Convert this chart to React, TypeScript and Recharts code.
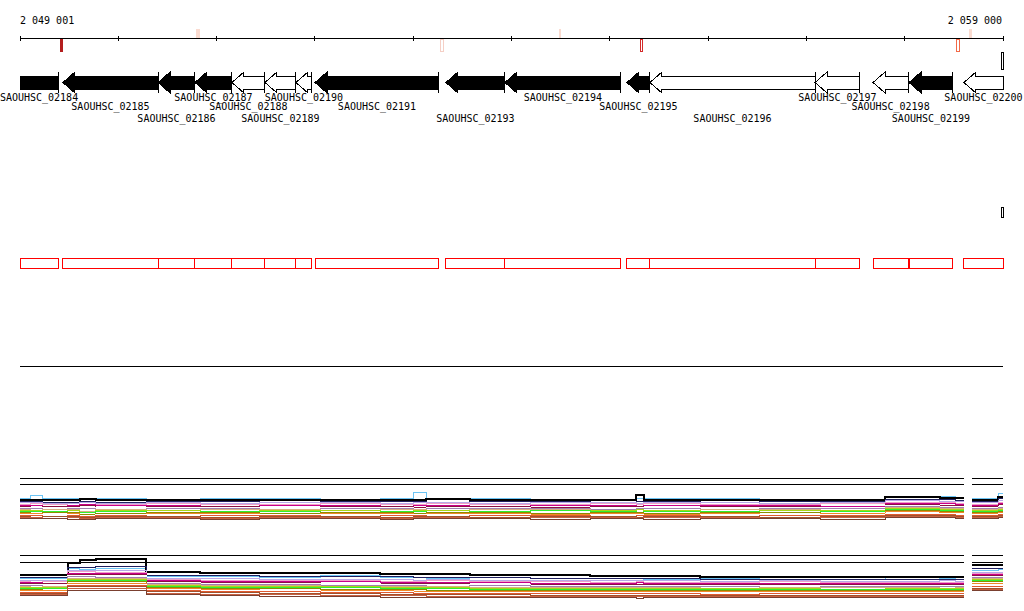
import React from 'react';
import { ComposedChart, LineChart, Line, XAxis, YAxis, ReferenceArea, ReferenceLine } from 'recharts';

// visible window on the chromosome (bp)
const WINDOW: [number, number] = [2049001, 2059000];
const RULER_TICKS = [2049001, 2050000, 2051000, 2052000, 2053000, 2054000, 2055000, 2056000, 2057000, 2058000, 2059000];

const GENE_NAMES = [
  'SAOUHSC_02184', 'SAOUHSC_02185', 'SAOUHSC_02186', 'SAOUHSC_02187', 'SAOUHSC_02188', 'SAOUHSC_02189',
  'SAOUHSC_02190', 'SAOUHSC_02191', 'SAOUHSC_02193', 'SAOUHSC_02194', 'SAOUHSC_02195', 'SAOUHSC_02196',
  'SAOUHSC_02197', 'SAOUHSC_02198', 'SAOUHSC_02199', 'SAOUHSC_02200',
];
const GENE_START = [2048650, 2049438, 2050405, 2050781, 2051157, 2051493, 2051808, 2052002, 2053334, 2053934, 2055175, 2055409, 2057088, 2057678, 2058044, 2058603];
const GENE_END = [2049388, 2050405, 2050781, 2051157, 2051493, 2051808, 2051971, 2053263, 2053934, 2055114, 2055409, 2057088, 2057545, 2058034, 2058491, 2059400];
const GENE_STRAND = ['-', '-', '-', '-', '-', '-', '-', '-', '-', '-', '-', '-', '-', '-', '-', '-'];
const GENE_CLASS = ['core', 'core', 'core', 'core', 'acc', 'acc', 'acc', 'core', 'core', 'core', 'core', 'acc', 'acc', 'acc', 'core', 'acc'];

// small features on the ruler
const MARK_START = [2049418, 2050801, 2053283, 2054484, 2055308, 2058522, 2058664];
const MARK_END = [2049438, 2050822, 2053304, 2054504, 2055338, 2058553, 2058675];
const MARK_STRAND = ['-', '+', '-', '+', '-', '-', '+'];
const MARK_TYPE = ['A', 'B', 'C', 'B', 'D', 'E', 'B'];
const EDGE_FEATURE = [2058980, 2059000];

// probe positions of the two signal tracks, no probes inside GAP
const GAP = [2058603, 2058685];
const POSITIONS = [
  2049001, 2049103, 2049225, 2049489, 2049611, 2049774, 2050283, 2050832, 2051442, 2052053,
  2052663, 2052999, 2053131, 2053578, 2054189, 2054799, 2055267, 2055348, 2055918, 2056528,
  2057139, 2057800, 2058359, 2058512, 2058603, 2058640, 2058685, 2058950, 2059000,
];
const SAMPLES = ['c01', 'c02', 'c03', 'c04', 'c05', 'c06', 'c07', 'c08', 'c09', 'c10', 'c11', 'c12', 'c13', 'c14', 'c15', 'c16', 'c17', 'c18', 'c19'];

const UPPER_TRACK: (number | null)[][] = [
  [26, 29, 26, 26, 26, 26, 25, 26, 26, 25, 26, 32, 26, 26, 25, 25, 26, 26, 26, 25, 25, 27, 28, 26, 26, null, 26, 31, 31],
  [24, 24, 24, 24, 25, 24, 24, 24, 24, 24, 24, 24, 25, 24, 24, 24, 29, 24, 24, 24, 24, 27, 26, 26, 26, null, 24, 27, 27],
  [23, 23, 22, 22, 23, 22, 23, 23, 22, 23, 23, 23, 22, 23, 23, 22, 23, 23, 22, 23, 23, 25, 25, 24, 24, null, 23, 26, 26],
  [22, 22, 21, 21, 22, 21, 22, 21, 22, 22, 21, 22, 22, 21, 22, 22, 21, 22, 22, 21, 22, 24, 23, 23, 23, null, 22, 24, 24],
  [20, 21, 20, 19, 20, 20, 21, 20, 20, 21, 20, 20, 21, 20, 20, 21, 20, 21, 20, 20, 21, 22, 22, 21, 21, null, 20, 22, 22],
  [19, 19, 18, 19, 20, 19, 19, 18, 19, 19, 18, 19, 19, 18, 19, 19, 18, 19, 19, 19, 18, 21, 21, 20, 20, null, 19, 21, 21],
  [18, 17, 18, 18, 19, 17, 18, 18, 17, 18, 18, 17, 18, 18, 17, 18, 18, 17, 18, 18, 17, 20, 19, 19, 19, null, 18, 20, 20],
  [17, 17, 17, 16, 17, 17, 17, 16, 17, 17, 17, 16, 17, 17, 16, 17, 17, 17, 16, 17, 17, 19, 18, 18, 18, null, 17, 18, 18],
  [16, 16, 15, 16, 16, 15, 16, 16, 15, 16, 16, 15, 16, 16, 16, 15, 16, 16, 15, 16, 16, 18, 17, 17, 17, null, 16, 17, 17],
  [15, 14, 15, 15, 13, 15, 14, 15, 15, 14, 15, 15, 14, 15, 15, 14, 15, 14, 15, 15, 14, 17, 16, 16, 16, null, 15, 16, 16],
  [14, 14, 13, 14, 12, 14, 14, 13, 14, 14, 13, 14, 14, 13, 14, 14, 15, 14, 13, 14, 14, 16, 15, 15, 15, null, 14, 15, 15],
  [13, 13, 13, 12, 12, 13, 12, 13, 13, 12, 13, 13, 12, 13, 14, 13, 12, 13, 13, 12, 13, 15, 14, 14, 14, null, 13, 14, 14],
  [12, 11, 12, 12, 10, 11, 12, 12, 11, 12, 12, 11, 12, 12, 11, 12, 12, 11, 12, 12, 11, 14, 13, 13, 13, null, 12, 13, 13],
  [11, 11, 10, 11, 9, 10, 11, 11, 10, 11, 11, 10, 11, 11, 10, 11, 11, 10, 11, 10, 11, 13, 12, 12, 12, null, 11, 12, 12],
  [10, 10, 10, 9, 9, 10, 10, 9, 10, 10, 9, 10, 10, 10, 9, 10, 10, 9, 10, 10, 9, 11, 11, 10, 10, null, 10, 11, 11],
  [9, 9, 8, 9, 8, 9, 8, 9, 9, 8, 9, 9, 8, 9, 9, 8, 9, 9, 8, 9, 9, 10, 10, 9, 9, null, 9, 10, 10],
  [8, 7, 8, 8, 7, 8, 8, 7, 8, 8, 7, 8, 8, 7, 8, 8, 7, 8, 8, 7, 8, 9, 9, 8, 8, null, 8, 9, 9],
  [7, 7, 6, 7, 6, 7, 7, 6, 7, 7, 6, 7, 7, 6, 7, 7, 6, 7, 7, 6, 7, 8, 8, 7, 7, null, 7, 8, 8],
  [6, 6, 6, 5, 5, 6, 6, 5, 6, 6, 5, 6, 6, 6, 5, 6, 6, 5, 6, 6, 5, 7, 7, 6, 6, null, 6, 7, 7],
];

const LOWER_TRACK: (number | null)[][] = [
  [22, 22, 22, 32, 31, 32, 24, 24, 23, 25, 23, 23, 22, 23, 22, 22, 22, 21, 22, 21, 21, 23, 22, 21, 21, null, 30, 31, 31],
  [25, 25, 25, 37, 40, 41, 28, 27, 27, 27, 26, 26, 26, 25, 25, 24, 24, 24, 23, 23, 23, 23, 23, 23, 23, null, 35, 35, 35],
  [23, 23, 23, 33, 33, 34, 25, 25, 24, 24, 24, 23, 23, 23, 22, 22, 22, 22, 21, 21, 21, 21, 21, 21, 21, null, 32, 32, 32],
  [20, 20, 20, 30, 30, 30, 22, 22, 21, 21, 21, 20, 21, 20, 20, 20, 20, 20, 19, 20, 19, 19, 20, 19, 19, null, 28, 28, 28],
  [19, 18, 19, 29, 29, 28, 21, 20, 20, 20, 19, 19, 20, 19, 19, 18, 19, 18, 18, 19, 18, 18, 18, 18, 18, null, 27, 27, 27],
  [18, 18, 17, 27, 27, 27, 20, 19, 19, 19, 18, 18, 18, 18, 17, 17, 18, 17, 17, 17, 17, 17, 17, 17, 17, null, 26, 26, 26],
  [17, 17, 17, 26, 26, 26, 19, 18, 18, 17, 17, 17, 17, 16, 16, 16, 16, 16, 16, 16, 16, 16, 16, 16, 16, null, 25, 25, 25],
  [16, 16, 16, 25, 25, 25, 18, 17, 17, 17, 16, 16, 16, 16, 15, 15, 15, 15, 15, 15, 15, 15, 15, 15, 15, null, 24, 24, 24],
  [15, 15, 14, 24, 24, 23, 17, 16, 16, 15, 15, 15, 14, 15, 14, 14, 14, 14, 14, 13, 14, 14, 14, 14, 14, null, 23, 23, 23],
  [14, 13, 14, 22, 22, 22, 16, 15, 15, 14, 14, 14, 14, 13, 13, 13, 13, 13, 12, 13, 13, 13, 12, 13, 13, null, 22, 22, 22],
  [13, 13, 13, 21, 21, 21, 15, 14, 14, 14, 13, 13, 13, 12, 12, 12, 12, 12, 12, 12, 11, 12, 12, 12, 12, null, 21, 21, 21],
  [12, 12, 12, 20, 20, 20, 14, 13, 13, 13, 12, 12, 12, 11, 11, 11, 11, 11, 11, 11, 11, 11, 11, 11, 11, null, 20, 20, 20],
  [11, 11, 10, 19, 19, 19, 13, 12, 12, 11, 11, 11, 10, 10, 10, 10, 10, 10, 10, 10, 10, 10, 10, 10, 10, null, 19, 19, 19],
  [10, 10, 10, 17, 17, 17, 12, 11, 10, 10, 10, 9, 9, 9, 9, 9, 9, 9, 9, 9, 9, 9, 9, 9, 9, null, 17, 17, 17],
  [9, 9, 9, 16, 16, 16, 11, 10, 10, 9, 9, 8, 8, 8, 8, 8, 8, 8, 8, 8, 8, 8, 8, 8, 8, null, 16, 16, 16],
  [8, 8, 8, 15, 15, 15, 10, 9, 9, 8, 8, 7, 7, 7, 7, 7, 7, 7, 6, 7, 7, 7, 7, 7, 7, null, 14, 14, 14],
  [7, 7, 7, 14, 14, 14, 9, 8, 7, 7, 6, 6, 6, 6, 5, 5, 5, 5, 5, 5, 5, 5, 5, 5, 5, null, 12, 12, 12],
  [6, 6, 6, 12, 12, 12, 7, 6, 6, 5, 5, 5, 4, 4, 4, 4, 4, 4, 4, 4, 4, 4, 4, 4, 4, null, 11, 11, 11],
  [5, 5, 5, 10, 10, 10, 6, 5, 4, 4, 3, 3, 3, 3, 3, 3, 2, 3, 3, 3, 3, 3, 3, 3, 3, null, 10, 10, 10],
];
const UPPER_GUIDES = [46, 40];
const LOWER_GUIDES = [45, 38];

const SAMPLE_COLORS = [
  '#6cc4f4', '#000000', '#202060', '#b8a8e8', '#f0a0c8', '#c8008c', '#8c1040', '#ffffff', '#a080b0', '#d8b080',
  '#a8d818', '#30f030', '#8c8c00', '#f08828', '#ffffff', '#e05a30', '#a0522d', '#c86040', '#7a4030',
];
const MARK_STYLE: Record<string, { fill: string; stroke: string }> = {
  A: { fill: '#b41e1e', stroke: '#b41e1e' },
  B: { fill: '#fadbd0', stroke: '#fadbd0' },
  C: { fill: '#ffffff', stroke: '#f5cfc5' },
  D: { fill: '#ffffff', stroke: '#d42a2a' },
  E: { fill: '#ffffff', stroke: '#f26a48' },
};
const LABEL_DROP = [8, 17, 29];
const MONO = '"DejaVu Sans Mono", monospace';

const clamp = (v: number) => Math.max(WINDOW[0], Math.min(WINDOW[1], v));
const spaced = (v: number) => String(v).replace(/\B(?=(\d{3})+(?!\d))/g, ' ');

// one row per gene, gives the chart data so the axes get a scale
const geneRows = GENE_NAMES.map((name, i) => ({ name, pos: clamp(GENE_START[i]), end: clamp(GENE_END[i]) }));

const RulerTick = (props: any) => {
  const { x, y, index, payload } = props;
  const first = index === 0;
  const last = index === RULER_TICKS.length - 1;
  return (
    <g>
      <line x1={x} x2={x} y1={y - 2} y2={y + 3} stroke="#000" />
      {(first || last) && (
        <text x={last ? x - 1 : x} y={y - 14} textAnchor={last ? 'end' : 'start'} fontFamily={MONO} fontSize={10} fill="#000">
          {spaced(payload.value)}
        </text>
      )}
    </g>
  );
};

const GeneShape = (props: any) => {
  const { x, y, width, height, gene } = props;
  const cutStart = GENE_START[gene] < WINDOW[0];
  const cutEnd = GENE_END[gene] > WINDOW[1];
  const reverse = GENE_STRAND[gene] === '-';
  const head = Math.min(12, width);
  const l = x;
  const r = x + width;
  const top = y;
  const bot = y + height;
  const mid = y + height / 2;
  const bt = y + 4;
  const bb = y + height - 4;
  let pts: number[][];
  if (reverse && !cutStart) pts = [[l, mid], [l + head, top], [l + head, bt], [r, bt], [r, bb], [l + head, bb], [l + head, bot]];
  else if (!reverse && !cutEnd) pts = [[l, bt], [r - head, bt], [r - head, top], [r, mid], [r - head, bot], [r - head, bb], [l, bb]];
  else pts = [[l, bt], [r, bt], [r, bb], [l, bb]];
  const tailX = reverse ? (cutEnd ? null : r) : cutStart ? null : l;
  return (
    <g>
      <polygon points={pts.map((p) => p.join(',')).join(' ')} fill={GENE_CLASS[gene] === 'core' ? '#000' : '#fff'} stroke="#000" strokeWidth={1} />
      {tailX !== null && <line x1={tailX} x2={tailX} y1={top} y2={bot} stroke="#000" />}
      <text x={(l + r) / 2} y={bot + LABEL_DROP[gene % 3]} textAnchor="middle" fontFamily={MONO} fontSize={10} fill="#000">
        {GENE_NAMES[gene]}
      </text>
    </g>
  );
};

const SignalTrack = ({ values, guides, top }: { values: (number | null)[][]; guides: number[]; top: number }) => {
  const rows = POSITIONS.map((pos, i) => {
    const row: Record<string, number | null> = { pos };
    SAMPLES.forEach((s, k) => {
      row[s] = values[k][i];
    });
    return row;
  });
  return (
    <div style={{ position: 'absolute', left: 0, top }}>
      <LineChart width={1024} height={50} data={rows} margin={{ top: 0, right: 21, bottom: 0, left: 20 }}>
        <XAxis type="number" dataKey="pos" domain={WINDOW} allowDataOverflow hide />
        <YAxis type="number" domain={[0, 50]} allowDataOverflow hide />
        {guides.map((g) => (
          <ReferenceLine key={'a' + g} segment={[{ x: WINDOW[0], y: g }, { x: GAP[0], y: g }]} stroke="#000" ifOverflow="visible" />
        ))}
        {guides.map((g) => (
          <ReferenceLine key={'b' + g} segment={[{ x: GAP[1], y: g }, { x: WINDOW[1], y: g }]} stroke="#000" ifOverflow="visible" />
        ))}
        {SAMPLES.map((s, k) => (
          <Line
            key={s}
            dataKey={s}
            type="stepAfter"
            stroke={SAMPLE_COLORS[k]}
            strokeWidth={k === 1 ? 2 : 1}
            dot={false}
            activeDot={false}
            connectNulls={false}
            isAnimationActive={false}
          />
        ))}
      </LineChart>
    </div>
  );
};

export default function App() {
  return (
    <div className="trackview" style={{ position: 'absolute', left: 0, top: 0, width: 1024, height: 611, background: '#fff' }}>
      <style>{`body{margin:0} .trackview svg line, .trackview svg path, .trackview svg rect, .trackview svg polygon{shape-rendering:crispEdges}`}</style>
      <div style={{ position: 'absolute', left: 0, top: 0 }}>
        <ComposedChart width={1024} height={372} data={geneRows} margin={{ top: 0, right: 21, bottom: 0, left: 20 }}>
          <XAxis
            type="number"
            scale="linear"
            dataKey="pos"
            domain={WINDOW}
            allowDataOverflow
            orientation="top"
            height={38}
            ticks={RULER_TICKS}
            interval={0}
            tick={(p: any) => <RulerTick {...p} />}
            tickLine={false}
            tickSize={0}
            tickMargin={0}
            axisLine={{ stroke: '#000' }}
          />
          <YAxis type="number" domain={[38, 372]} reversed allowDataOverflow hide />
          <YAxis yAxisId="aux" type="number" hide />
          {/* invisible helper series that registers the gene rows on the x axis */}
          <Line yAxisId="aux" dataKey="end" stroke="none" dot={false} activeDot={false} isAnimationActive={false} />
          {MARK_START.map((s, i) => (
            <ReferenceArea
              key={'m' + i}
              x1={s}
              x2={MARK_END[i]}
              y1={MARK_STRAND[i] === '+' ? 29 : 39}
              y2={MARK_STRAND[i] === '+' ? 38 : 51}
              fill={MARK_STYLE[MARK_TYPE[i]].fill}
              fillOpacity={1}
              stroke={MARK_STYLE[MARK_TYPE[i]].stroke}
              ifOverflow="visible"
            />
          ))}
          <ReferenceArea x1={EDGE_FEATURE[0]} x2={EDGE_FEATURE[1]} y1={52} y2={69} fill="#fff" fillOpacity={1} stroke="#000" ifOverflow="visible" />
          {GENE_NAMES.map((_, i) => (
            <ReferenceArea
              key={'g' + i}
              x1={clamp(GENE_START[i])}
              x2={clamp(GENE_END[i])}
              y1={72}
              y2={93}
              ifOverflow="visible"
              shape={(p: any) => <GeneShape {...p} gene={i} />}
            />
          ))}
          <ReferenceArea x1={EDGE_FEATURE[0]} x2={EDGE_FEATURE[1]} y1={207} y2={217} fill="#fff" fillOpacity={1} stroke="#000" ifOverflow="visible" />
          {GENE_NAMES.map((_, i) => (
            <ReferenceArea
              key={'b' + i}
              x1={clamp(GENE_START[i])}
              x2={clamp(GENE_END[i])}
              y1={258}
              y2={268}
              fill="none"
              stroke="#ff0000"
              strokeWidth={1}
              ifOverflow="visible"
            />
          ))}
          <ReferenceLine y={366} stroke="#000" ifOverflow="visible" />
        </ComposedChart>
      </div>
      <SignalTrack values={UPPER_TRACK} guides={UPPER_GUIDES} top={474} />
      <SignalTrack values={LOWER_TRACK} guides={LOWER_GUIDES} top={550} />
    </div>
  );
}
